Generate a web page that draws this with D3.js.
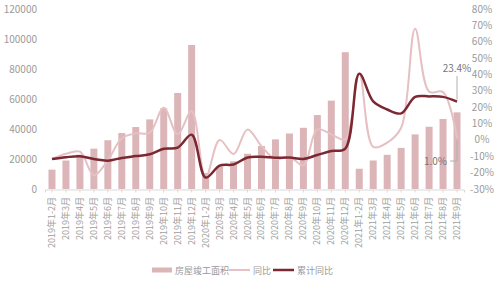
<!DOCTYPE html>
<html>
<head>
<meta charset="utf-8">
<script src="https://cdn.jsdelivr.net/npm/d3@7"></script>
<style>
  body { margin: 0; background: #fff; }
  text { font-family: "Noto Sans CJK SC", "Noto Sans", sans-serif; }
</style>
</head>
<body>
<script>
// categories on the x axis
const months = ["2019年1-2月", "2019年3月", "2019年4月", "2019年5月", "2019年6月", "2019年7月",
  "2019年8月", "2019年9月", "2019年10月", "2019年11月", "2019年12月",
  "2020年1-2月", "2020年3月", "2020年4月", "2020年5月", "2020年6月", "2020年7月",
  "2020年8月", "2020年9月", "2020年10月", "2020年11月", "2020年12月",
  "2021年1-2月", "2021年3月", "2021年4月", "2021年5月", "2021年6月", "2021年7月",
  "2021年8月", "2021年9月"];

// 房屋竣工面积 (bars, left axis)
const area = [12900, 19000, 22900, 26900, 32500, 37300, 41300, 46400, 53800, 64000, 96000,
  10600, 15000, 18500, 23500, 28700, 33100, 37000, 40800, 49300, 58900, 91200,
  13500, 19000, 22800, 27400, 36400, 41500, 46700, 51100];

// 同比 (light line, right axis, %)
const yoy = [-11.7, -8.5, -7.2, -21.5, -12.5, 1.0, 4.0, 4.4, 19.7, 3.4, 17.6,
  -23.0, 0.0, -8.6, 6.4, -3.8, -11.7, -10.4, -15.5, 6.4, 3.4, 0.3,
  40.5, -4.3, -1.7, 7.4, 68.0, 29.5, 29.2, 1.0];

// 累计同比 (dark line, right axis, %)
const cumYoy = [-11.7, -10.6, -10.0, -11.7, -12.7, -11.0, -9.9, -8.8, -5.4, -4.7, 3.2,
  -23.0, -15.7, -15.0, -10.7, -10.3, -10.9, -10.8, -11.6, -9.2, -6.8, -5.3,
  40.5, 23.5, 18.6, 16.2, 26.3, 26.6, 26.3, 23.4];

const leftTicks = [0, 20000, 40000, 60000, 80000, 100000, 120000];
const rightTicks = [-30, -20, -10, 0, 10, 20, 30, 40, 50, 60, 70, 80];

const w = 500, h = 285;
const plotTop = 9, plotBottom = 189, plotLeft = 45, plotRight = 464;

const svg = d3.select("body").append("svg")
  .attr("width", w)
  .attr("height", h);

const x = d3.scaleBand()
  .domain(months)
  .range([plotLeft, plotRight])
  .paddingInner(0.5)
  .paddingOuter(0.25);

const yL = d3.scaleLinear().domain([0, 120000]).range([plotBottom, plotTop]);
const yR = d3.scaleLinear().domain([-30, 80]).range([plotBottom, plotTop]);

const cx = d => x(d) + x.bandwidth() / 2;

// x axis line with ticks
const xAxis = d3.axisBottom(x).tickSize(3).tickFormat("");
const gx = svg.append("g")
  .attr("transform", "translate(0," + (plotBottom + 0.5) + ")")
  .call(xAxis);
gx.select(".domain").attr("stroke", "#d9d9d9");
gx.selectAll(".tick line").attr("stroke", "#d9d9d9");

// rotated category labels
svg.selectAll(".xlab")
  .data(months)
  .enter()
  .append("text")
  .attr("class", "xlab")
  .attr("transform", d => "translate(" + (cx(d) + 3) + "," + (plotBottom + 8) + ") rotate(-90)")
  .attr("text-anchor", "end")
  .attr("font-size", 9)
  .attr("fill", "#a0a0a0")
  .text(d => d);

// left axis labels
svg.selectAll(".ylab")
  .data(leftTicks)
  .enter()
  .append("text")
  .attr("x", 37)
  .attr("y", d => yL(d) + 3.5)
  .attr("text-anchor", "end")
  .attr("font-size", 10)
  .attr("fill", "#9a9a9a")
  .text(d => d);

// right axis labels
svg.selectAll(".rlab")
  .data(rightTicks)
  .enter()
  .append("text")
  .attr("x", 482)
  .attr("y", d => yR(d) + 3.5)
  .attr("text-anchor", "middle")
  .attr("font-size", 10)
  .attr("fill", "#9a9a9a")
  .text(d => d + "%");

// bars
svg.selectAll(".bar")
  .data(area)
  .enter()
  .append("rect")
  .attr("class", "bar")
  .attr("x", (d, i) => x(months[i]))
  .attr("y", d => yL(d))
  .attr("width", x.bandwidth())
  .attr("height", d => plotBottom - yL(d))
  .attr("fill", "#dcb5b8");

// lines
const line = d3.line()
  .x((d, i) => cx(months[i]))
  .y(d => yR(d))
  .curve(d3.curveCatmullRom.alpha(0.5));

svg.append("path")
  .attr("d", line(yoy))
  .attr("fill", "none")
  .attr("stroke", "#e6c0c3")
  .attr("stroke-width", 2);

svg.append("path")
  .attr("d", line(cumYoy))
  .attr("fill", "none")
  .attr("stroke", "#7b2832")
  .attr("stroke-width", 2.5);

// annotations for the last point
const lastX = cx(months[months.length - 1]);
const lastCum = cumYoy[cumYoy.length - 1];
const lastYoy = yoy[yoy.length - 1];

svg.append("text")
  .attr("x", lastX)
  .attr("y", 72)
  .attr("text-anchor", "middle")
  .attr("font-size", 10)
  .attr("fill", "#777")
  .text(lastCum.toFixed(1) + "%");
svg.append("line")
  .attr("x1", lastX).attr("x2", lastX)
  .attr("y1", 76).attr("y2", yR(lastCum) - 2)
  .attr("stroke", "#b0b0b0");

svg.append("text")
  .attr("x", lastX - 10)
  .attr("y", 165)
  .attr("text-anchor", "end")
  .attr("font-size", 10)
  .attr("fill", "#777")
  .text(lastYoy.toFixed(1) + "%");
svg.append("polyline")
  .attr("points", (lastX - 7) + ",161 " + lastX + ",161 " + lastX + "," + (yR(lastYoy) + 2))
  .attr("fill", "none")
  .attr("stroke", "#b0b0b0");

// legend
const lg = svg.append("g").attr("transform", "translate(0,270)");
lg.append("rect").attr("x", 152).attr("y", -2.5).attr("width", 20).attr("height", 5).attr("fill", "#dcb5b8");
lg.append("text").attr("x", 175).attr("y", 3.5).attr("font-size", 9).attr("fill", "#999").text("房屋竣工面积");
lg.append("line").attr("x1", 229).attr("x2", 250).attr("y1", 0).attr("y2", 0).attr("stroke", "#e6c0c3").attr("stroke-width", 2);
lg.append("text").attr("x", 253).attr("y", 3.5).attr("font-size", 9).attr("fill", "#999").text("同比");
lg.append("line").attr("x1", 273).attr("x2", 294).attr("y1", 0).attr("y2", 0).attr("stroke", "#7b2832").attr("stroke-width", 2.5);
lg.append("text").attr("x", 297).attr("y", 3.5).attr("font-size", 9).attr("fill", "#999").text("累计同比");
</script>
</body>
</html>
